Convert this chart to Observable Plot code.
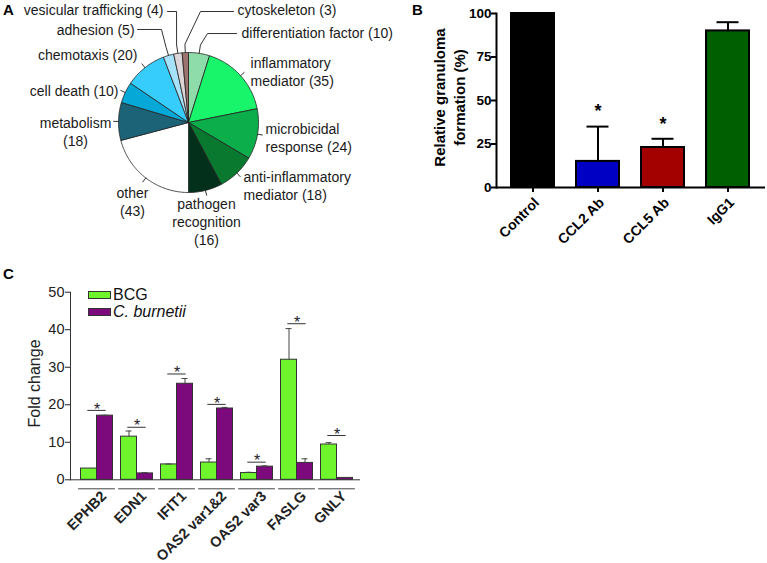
<!DOCTYPE html>
<html><head><meta charset="utf-8">
<script src="https://cdn.jsdelivr.net/npm/d3@7"></script>
<script src="https://cdn.jsdelivr.net/npm/@observablehq/plot@0.6"></script>
<style>
body{margin:0;background:#fff;font-family:"Liberation Sans",Arial,sans-serif;}
#fig{position:relative;width:767px;height:563px;overflow:hidden;background:#fff;}
.panel{position:absolute;}
.plab{position:absolute;font-weight:bold;font-size:15px;line-height:15px;color:#000;}
.leg{position:absolute;font-size:16px;line-height:16px;color:#111;display:flex;align-items:center;}
.sw{display:inline-block;width:21px;height:6px;border:1px solid #333;margin-right:2px;}
</style></head>
<body><div id="fig"></div>
<script>
// ---------- Panel A data ----------
const pieCategories = ["differentiation factor","inflammatory mediator","microbicidal response","anti-inflammatory mediator","pathogen recognition","other","metabolism","cell death","chemotaxis","adhesion","vesicular trafficking","cytoskeleton"];
const pieCounts = [10,35,24,18,16,43,18,10,20,5,4,3];
const pieColors = ["#8fdcab","#19f56b","#0cae4c","#08792f","#03301a","#ffffff","#1c6377","#05a8d6","#36cdfc","#a6e3fa","#ddd6d8","#9d736e"];

// ---------- Panel B data ----------
const bGroups = ["Control","CCL2 Ab","CCL5 Ab","IgG1"];
const bValues = [100, 15, 23, 90];
const bErrors = [0, 20, 5, 5];
const bColors = ["#000000","#0000c4","#a30000","#005f00"];
const bSignificant = [false, true, true, false];
const bTicks = [0, 25, 50, 75, 100];

// ---------- Panel C data ----------
const genes = ["EPHB2","EDN1","IFIT1","OAS2 var1&2","OAS2 var3","FASLG","GNLY"];
const cSeries = ["BCG","C. burnetii"];
const bcgValues = [3, 11.5, 4.1, 4.6, 1.8, 32, 9.4];
const bcgErrors = [0, 1.5, 0.1, 1.0, 0.2, 8.3, 0.5];
const cbValues = [17.1, 1.7, 25.6, 19.0, 3.5, 4.5, 0.5];
const cbErrors = [0.1, 0.2, 1.4, 0.3, 0.2, 1.1, 0];
const bracketLevels = [18.5, 14.0, 28.2, 20.1, 4.7, 41.6, 11.8];
const cColors = ["#6ef52c","#7d0a7d"];
const cTicks = [0, 10, 20, 30, 40, 50];

const FONT = "Liberation Sans, Arial, sans-serif";
const fig = document.getElementById("fig");
function place(node, left, top, id){ const d=document.createElement("div"); d.className="panel"; if(id) d.id=id; d.style.left=left+"px"; d.style.top=top+"px"; d.appendChild(node); fig.appendChild(d); }
function lab(t,l,tp){ const d=document.createElement("div"); d.className="plab"; d.textContent=t; d.style.left=l+"px"; d.style.top=tp+"px"; fig.appendChild(d); }

// ---------- Panel A: pie ----------
const arcs = d3.pie().sort(null).value(d => d)(pieCounts);
const slices = arcs.map((p, i) => {
  const pts = [[0,0]];
  const n = Math.max(3, Math.ceil((p.endAngle - p.startAngle)/0.02));
  for (let k=0;k<=n;k++){ const a = p.startAngle + (p.endAngle-p.startAngle)*k/n; pts.push([Math.sin(a), Math.cos(a)]); }
  pts.push([0,0]);
  return {cat: pieCategories[i], color: pieColors[i], pts, mid: (p.startAngle+p.endAngle)/2};
});
// label layout (pie radius units): name with line breaks, separator before count, anchor point, elbow of leader
const pieLabelLayout = [
  {name:"differentiation factor", sep:" ", x:0.757, y:1.286, anchor:"start", elbow:[[0.271,1.271],[0.686,1.271]]},
  {name:"inflammatory\nmediator", sep:" ", x:0.886, y:0.729, anchor:"start"},
  {name:"microbicidal\nresponse", sep:" ", x:1.1, y:-0.214, anchor:"start"},
  {name:"anti-inflammatory\nmediator", sep:" ", x:0.786, y:-0.893, anchor:"start"},
  {name:"pathogen\nrecognition", sep:"\n", x:0.257, y:-1.414, anchor:"middle"},
  {name:"other", sep:"\n", x:-0.8, y:-1.129, anchor:"middle"},
  {name:"metabolism", sep:"\n", x:-1.614, y:-0.129, anchor:"middle"},
  {name:"cell death", sep:" ", x:-1.0, y:0.457, anchor:"end"},
  {name:"chemotaxis", sep:" ", x:-0.729, y:0.971, anchor:"end"},
  {name:"adhesion", sep:" ", x:-0.771, y:1.329, anchor:"end", elbow:[[-0.386,1.329],[-0.729,1.329]]},
  {name:"vesicular trafficking", sep:" ", x:-0.357, y:1.614, anchor:"end", elbow:[[-0.171,1.586],[-0.3,1.586]]},
  {name:"cytoskeleton", sep:" ", x:0.7, y:1.614, anchor:"start", elbow:[[0.171,1.586],[0.643,1.586]]}
];
const pieLabels = pieLabelLayout.map((L,i) => ({...L, text: L.name + L.sep + "(" + pieCounts[i] + ")"}));
const leaders = slices.map((s,i) => {
  const L = pieLabelLayout[i];
  const r2 = L.elbow ? 1.12 : 1.07;
  const pts = [[Math.sin(s.mid), Math.cos(s.mid)], [r2*Math.sin(s.mid), r2*Math.cos(s.mid)]];
  if (L.elbow) pts.push(...L.elbow);
  return pts;
});
const plotA = Plot.plot({
  width: 402, height: 262, margin: 0,
  x: {domain: [-2.686, 3.057], axis: null},
  y: {domain: [-2.0, 1.743], axis: null},
  style: {fontFamily: FONT, background: "transparent", overflow: "visible"},
  marks: [
    ...slices.map(s => Plot.line(s.pts, {x: d=>d[0], y: d=>d[1], fill: s.color, stroke: "#222", strokeWidth: 0.8, strokeLinejoin: "round"})),
    ...leaders.map(pts => Plot.line(pts, {x: d=>d[0], y: d=>d[1], stroke: "#333", strokeWidth: 1})),
    ...["start","middle","end"].map(a => Plot.text(pieLabels.filter(d => d.anchor===a), {x:"x", y:"y", text:"text", textAnchor:a, fontSize:14, lineHeight:1.28, fill:"#1a1a1a"}))
  ]
});
place(plotA, 0, 0, "pA");

// ---------- Panel B: bars ----------
const bData = bGroups.map((g,i) => ({group:g, value:bValues[i], err:bErrors[i], sig:bSignificant[i]}));
const plotB = Plot.plot({
  width: 387, height: 280, marginLeft: 116, marginTop: 13, marginBottom: 93, marginRight: 2,
  style: {fontFamily: FONT, background: "transparent", color: "#000"},
  x: {domain: bGroups, paddingInner: 0.336, paddingOuter: 0.211},
  y: {domain: [0,100]},
  color: {domain: bGroups, range: bColors},
  marks: [
    Plot.barY(bData, {x:"group", y:"value", fill:"group", stroke:"#000", strokeWidth:2}),
    Plot.ruleX(bData.filter(d=>d.err>0), {x:"group", y1:"value", y2:d=>d.value+d.err, stroke:"#000", strokeWidth:2}),
    Plot.tickY(bData.filter(d=>d.err>0), {x:"group", y:d=>d.value+d.err, stroke:"#000", strokeWidth:2, insetLeft:10.5, insetRight:10.5}),
    Plot.text(bData.filter(d=>d.sig), {x:"group", y:d=>d.value+d.err, text:()=>"*", dy:-15, fontSize:18, fontWeight:"bold"}),
    Plot.ruleY([0], {stroke:"#000", strokeWidth:2}),
    Plot.frame({anchor:"left", stroke:"#000", strokeWidth:2}),
    Plot.axisY({ticks:bTicks, tickSize:5, strokeWidth:2, tickFormat:()=>"", label:null}),
    Plot.axisX({tickSize:5, strokeWidth:2, tickFormat:()=>"", label:null}),
    Plot.text(bTicks, {y:d=>d, frameAnchor:"left", textAnchor:"end", dx:-5, fontSize:13.5, fontWeight:"bold"}),
    Plot.text(bGroups, {x:d=>d, frameAnchor:"bottom", textAnchor:"end", rotate:-45, dx:7, dy:16, fontSize:14, fontWeight:"bold"}),
    Plot.text(["Relative granuloma\nformation (%)"], {frameAnchor:"left", textAnchor:"middle", rotate:-90, dx:-48, dy:-3, fontSize:15, fontWeight:"bold", lineHeight:1.33})
  ]
});
place(plotB, 380, 0, "pB");

// ---------- Panel C: grouped bars ----------
const cRows = genes.flatMap((g,i) => [
  {gene:g, i, series:cSeries[0], value:bcgValues[i], err:bcgErrors[i]},
  {gene:g, i, series:cSeries[1], value:cbValues[i], err:cbErrors[i]}
]);
const seriesOffset = {"BCG": -0.2, "C. burnetii": 0.2};
const halfBar = 0.2;
const cx = d => d.i + seriesOffset[d.series];
const plotC = Plot.plot({
  width: 380, height: 283, marginLeft: 70, marginRight: 20, marginTop: 11.7, marginBottom: 83.7,
  style: {fontFamily: FONT, background: "transparent", color: "#222"},
  x: {domain: [-0.6625, 6.5875], axis: null},
  y: {domain: [0,50]},
  color: {domain: cSeries, range: cColors},
  marks: [
    Plot.rectY(cRows, {x1: d=>cx(d)-halfBar, x2: d=>cx(d)+halfBar, y1: 0, y2: "value", fill: "series", stroke: "#333", strokeWidth: 1}),
    Plot.ruleX(cRows.filter(d=>d.err>0), {x: cx, y1: "value", y2: d=>d.value+d.err, stroke: "#444"}),
    Plot.ruleY(cRows.filter(d=>d.err>0), {x1: d=>cx(d)-0.075, x2: d=>cx(d)+0.075, y: d=>d.value+d.err, stroke: "#444"}),
    Plot.ruleY(genes, {x1: (g,i)=>i-0.23, x2: (g,i)=>i+0.23, y: (g,i)=>bracketLevels[i], stroke: "#333"}),
    Plot.text(genes, {x: (g,i)=>i, y: (g,i)=>bracketLevels[i], text: ()=>"*", dy: -1, fontSize: 16, fill: "#222"}),
    Plot.ruleY(genes, {x1: (g,i)=>i-0.46, x2: (g,i)=>i+0.46, y: 0, dy: 9, stroke: "#444"}),
    Plot.ruleY([0], {stroke: "#333"}),
    Plot.frame({anchor: "left", stroke: "#333"}),
    Plot.axisY({ticks: cTicks, tickSize: 5, tickFormat: () => "", label: null}),
    Plot.text(cTicks, {y: d=>d, frameAnchor: "left", textAnchor: "end", dx: -6, fontSize: 14.5, fill: "#222"}),
    Plot.text(genes, {x: (g,i)=>i, y: 0, text: d=>d, textAnchor: "end", rotate: -45, dx: 7, dy: 14, fontSize: 14.5, fontWeight: "bold", fill: "#222"}),
    Plot.text(["Fold change"], {frameAnchor: "left", textAnchor: "middle", rotate: -90, dx: -36, dy: -2.5, fontSize: 16})
  ]
});
place(plotC, 0, 280, "pC");

// legend for C
cSeries.forEach((s,k) => {
  const d = document.createElement("div"); d.className = "leg";
  d.style.left = "88px"; d.style.top = (287 + 17*k) + "px";
  const sw = document.createElement("span"); sw.className = "sw"; sw.style.background = cColors[k];
  const t = document.createElement("span"); t.textContent = s; if (k===1) t.style.fontStyle = "italic";
  d.appendChild(sw); d.appendChild(t); fig.appendChild(d);
});

lab("A", 3, 2); lab("B", 412, 2); lab("C", 3, 266);
</script>
</body></html>
